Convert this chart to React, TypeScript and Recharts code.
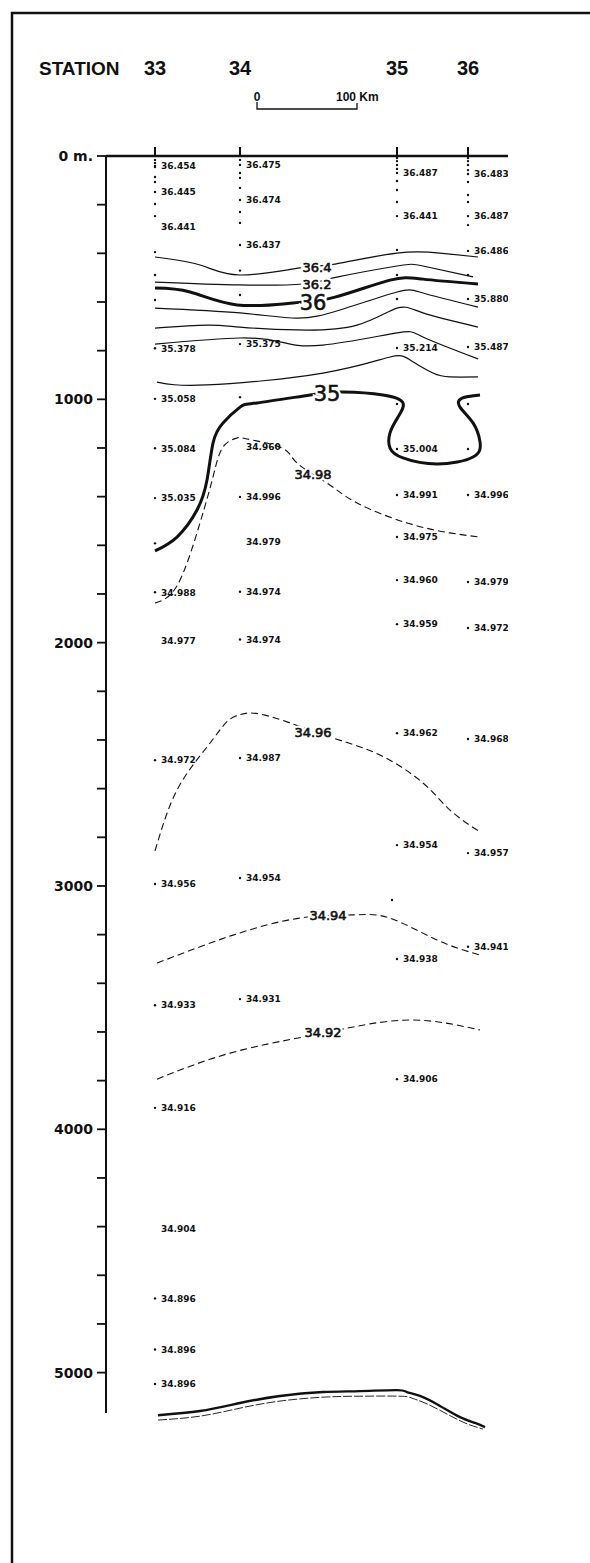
import { ComposedChart, Line, Scatter, XAxis, YAxis, ReferenceLine } from "recharts";

// stations along the section (x = km from station 33)
const stations = ["33", "34", "35", "36"];
const stationKm = [0, 85, 242, 313];

const depthTicks = [
  0, 200, 400, 600, 800, 1000, 1200, 1400, 1600, 1800, 2000, 2200, 2400, 2600,
  2800, 3000, 3200, 3400, 3600, 3800, 4000, 4200, 4400, 4600, 4800, 5000,
];
const depthLabels = [0, 1000, 2000, 3000, 4000, 5000];

// bottle depths (m) with no printed value
const bottles33 = [16, 29, 45, 86, 107, 197, 247, 395, 489, 592, 1592];
const bottles34 = [16, 70, 90, 131, 230, 275, 471, 571, 991];
const bottles35 = [8, 21, 37, 53, 103, 140, 189, 386, 489, 588, 1019];
const bottles36 = [8, 21, 37, 58, 107, 160, 189, 284, 489, 1019, 1204];

// printed salinities: [depth, value, has dot]
const values33: [number, string, boolean][] = [
  [41, "36.454", true], [148, "36.445", true], [292, "36.441", false],
  [790, "35.378", true], [998, "35.058", true], [1201, "35.084", true],
  [1406, "35.035", true], [1793, "34.988", true], [1993, "34.977", false],
  [2483, "34.972", true], [2992, "34.956", true], [3490, "34.933", true],
  [3912, "34.916", true], [4407, "34.904", false], [4695, "34.896", true],
  [4905, "34.896", true], [5047, "34.896", true],
];
const values34: [number, string, boolean][] = [
  [37, "36.475", true], [181, "36.474", true], [366, "36.437", true],
  [773, "35.375", true], [1195, "34.960", false], [1401, "34.996", true],
  [1587, "34.979", false], [1791, "34.974", true], [1987, "34.974", true],
  [2474, "34.987", true], [2967, "34.954", true], [3465, "34.931", true],
];
const values35: [number, string, boolean][] = [
  [70, "36.487", true], [247, "36.441", true], [789, "35.214", true],
  [1204, "35.004", true], [1393, "34.991", true], [1566, "34.975", true],
  [1743, "34.960", true], [1924, "34.959", true], [2372, "34.962", true],
  [2832, "34.954", true], [3300, "34.938", true], [3794, "34.906", true],
];
const values36: [number, string, boolean][] = [
  [74, "36.483", true], [247, "36.487", true], [390, "36.486", true],
  [588, "35.880", true], [785, "35.487", true], [1393, "34.996", true],
  [1751, "34.979", true], [1940, "34.972", true], [2396, "34.968", true],
  [2865, "34.957", true], [3250, "34.941", true],
];
const strayBottles = [[237, 3058]];

// isohalines: [km, depth]
const c364 = [[0, 415], [45, 448], [85, 489], [145, 460], [180, 444], [242, 399], [285, 399], [323, 415]];
const c362 = [[0, 518], [85, 530], [148, 526], [183, 497], [242, 452], [268, 452], [318, 497]];
const c360 = [[0, 543], [35, 559], [82, 612], [138, 604], [180, 580], [235, 510], [268, 506], [323, 526]];
const c358 = [[0, 625], [85, 645], [142, 666], [185, 633], [242, 559], [268, 563], [323, 621]];
const c356 = [[0, 707], [52, 695], [85, 703], [142, 715], [202, 695], [242, 625], [268, 645], [323, 703]];
const c354 = [[0, 773], [85, 748], [125, 764], [168, 777], [242, 727], [268, 744], [323, 834]];
const c352 = [[2, 929], [52, 941], [168, 892], [235, 826], [255, 838], [278, 892], [295, 908], [323, 908]];
const c350 = [
  [0, 1623], [22, 1566], [42, 1455], [52, 1332], [58, 1180], [68, 1097], [85, 1032], [102, 1015],
  [155, 982], [188, 970], [228, 982], [248, 1015], [243, 1073], [235, 1138], [235, 1200],
  [248, 1241], [282, 1266], [318, 1237], [325, 1175], [318, 1097], [305, 1032], [307, 995], [325, 982],
];
const c3498 = [
  [0, 1837], [23, 1759], [45, 1508], [58, 1319], [68, 1196], [82, 1159], [92, 1163], [127, 1200],
  [142, 1262], [172, 1344], [202, 1426], [252, 1508], [295, 1549], [325, 1566],
];
const c3496 = [
  [0, 2856], [22, 2606], [52, 2429], [72, 2325], [85, 2296], [95, 2289], [110, 2298], [135, 2330],
  [178, 2392], [225, 2462], [268, 2577], [295, 2688], [325, 2778],
];
const c3494 = [[2, 3317], [78, 3202], [145, 3132], [198, 3119], [235, 3132], [282, 3222], [325, 3284]];
const c3492 = [[2, 3794], [75, 3687], [148, 3621], [188, 3588], [255, 3551], [325, 3592]];
// sea floor, drawn as a double line
const bottom = [
  [3, 5175], [45, 5158], [85, 5125], [125, 5096], [168, 5080], [205, 5076], [242, 5072],
  [252, 5080], [265, 5096], [285, 5137], [305, 5183], [320, 5207], [330, 5224],
];
const bottomInner = [
  [3, 5195], [45, 5179], [85, 5146], [125, 5117], [168, 5101], [205, 5097], [245, 5097],
  [257, 5105], [270, 5125], [290, 5166], [310, 5207], [328, 5232],
];

// contour labels: [km, depth, text, font size]
const contourLabels: [number, number, string, number][] = [
  [162, 456, "36.4", 13], [162, 526, "36.2", 13], [158, 600, "36", 21],
  [172, 974, "35", 21], [158, 1307, "34.98", 13], [158, 2367, "34.96", 13],
  [173, 3119, "34.94", 13], [168, 3600, "34.92", 13],
];

const toPts = (arr: number[][]) => arr.map(([km, depth]) => ({ km, depth }));

const bottleData = [bottles33, bottles34, bottles35, bottles36]
  .flatMap((b, i) => b.map((depth) => ({ km: stationKm[i], depth })))
  .concat(toPts(strayBottles));

const valueData = [values33, values34, values35, values36].flatMap((v, i) =>
  v.map(([depth, text, dot]) => ({ km: stationKm[i], depth, text, dot }))
);

const labelData = contourLabels.map(([km, depth, text, size]) => ({ km, depth, text, size }));

const contours = [
  { data: c364, w: 1.2, dash: undefined },
  { data: c362, w: 1.2, dash: undefined },
  { data: c360, w: 3, dash: undefined },
  { data: c358, w: 1.2, dash: undefined },
  { data: c356, w: 1.2, dash: undefined },
  { data: c354, w: 1.2, dash: undefined },
  { data: c352, w: 1.2, dash: undefined },
  { data: c350, w: 3, dash: undefined },
  { data: c3498, w: 1.1, dash: "7 4" },
  { data: c3496, w: 1.1, dash: "7 4" },
  { data: c3494, w: 1.1, dash: "7 4" },
  { data: c3492, w: 1.1, dash: "7 4" },
  { data: bottom, w: 2.4, dash: undefined },
  { data: bottomInner, w: 0.9, dash: "9 2" },
];

const INK = "#111";

const StationTick = (p: any) => {
  const i = stationKm.indexOf(p.payload.value);
  return (
    <text x={p.x} y={75} textAnchor="middle" fontFamily="Liberation Sans, Arial" fontWeight={700} fontSize={20} fill={INK}>
      {stations[i]}
    </text>
  );
};

const DepthTick = (p: any) => {
  const v = p.payload.value;
  if (!depthLabels.includes(v)) return <g />;
  return (
    <text x={p.x} y={p.y} dy={5} textAnchor="end" fontFamily="DejaVu Sans" fontWeight={700} fontSize={14} fill={INK}>
      {v === 0 ? "0 m." : String(v)}
    </text>
  );
};

const BottleDot = (p: any) => <circle cx={p.cx} cy={p.cy} r={1.2} fill={INK} />;

const ValueMark = (p: any) => (
  <g>
    {p.payload.dot && <circle cx={p.cx} cy={p.cy} r={1.2} fill={INK} />}
    <text x={p.cx + 6} y={p.cy} dy={3.3} fontFamily="DejaVu Sans" fontWeight={700} fontSize={9} fill={INK}>
      {p.payload.text}
    </text>
  </g>
);

const ContourLabel = (p: any) => {
  const common = {
    x: p.cx,
    y: p.cy,
    dy: p.payload.size * 0.36,
    textAnchor: "middle" as const,
    fontFamily: "DejaVu Sans",
    fontSize: p.payload.size,
  };
  return (
    <g>
      <text {...common} fill="#fff" stroke="#fff" strokeWidth={5}>
        {p.payload.text}
      </text>
      <text {...common} fill={INK} stroke={INK} strokeWidth={0.6}>
        {p.payload.text}
      </text>
    </g>
  );
};

export default function App() {
  return (
    <div style={{ position: "absolute", left: 0, top: 0, width: 590, height: 1563, background: "#fff" }}>
      <ComposedChart width={590} height={1563} margin={{ top: 126, right: 82, bottom: 132, left: 46 }}>
        <XAxis
          type="number"
          dataKey="km"
          orientation="top"
          height={30}
          domain={[-49, 353]}
          allowDataOverflow
          ticks={stationKm}
          tick={<StationTick />}
          tickSize={9}
          axisLine={{ stroke: INK, strokeWidth: 2.5 }}
          tickLine={{ stroke: INK, strokeWidth: 2 }}
        />
        <YAxis
          type="number"
          dataKey="depth"
          width={60}
          reversed
          domain={[0, 5240]}
          allowDataOverflow
          ticks={depthTicks}
          interval={0}
          tick={<DepthTick />}
          tickSize={9}
          tickMargin={4}
          axisLine={false}
          tickLine={{ stroke: INK, strokeWidth: 1.8 }}
        />
        <ReferenceLine
          segment={[{ x: -49, y: 0 }, { x: -49, y: 5166 }]}
          stroke={INK}
          strokeWidth={2}
        />
        {contours.map((c, i) => (
          <Line
            key={i}
            data={toPts(c.data)}
            dataKey="depth"
            type="natural"
            stroke={INK}
            strokeWidth={c.w}
            strokeDasharray={c.dash}
            dot={false}
            activeDot={false}
            isAnimationActive={false}
          />
        ))}
        <Scatter data={bottleData} dataKey="depth" shape={<BottleDot />} isAnimationActive={false} />
        <Scatter data={valueData} dataKey="depth" shape={<ValueMark />} isAnimationActive={false} />
        <Scatter data={labelData} dataKey="depth" shape={<ContourLabel />} isAnimationActive={false} />
      </ComposedChart>
      <svg width={590} height={1563} style={{ position: "absolute", left: 0, top: 0, pointerEvents: "none" }}>
        <path d="M12 1563 V13 H590" fill="none" stroke={INK} strokeWidth={2.5} />
        <text x={39} y={75} fontFamily="Liberation Sans, Arial" fontWeight={700} fontSize={19} fill={INK}>
          STATION
        </text>
        <text x={257} y={101} textAnchor="middle" fontFamily="Liberation Sans, Arial" fontWeight={700} fontSize={12} fill={INK}>
          0
        </text>
        <path d="M257 102 V109 H357 V103" fill="none" stroke={INK} strokeWidth={1.3} />
        <text x={336} y={101} fontFamily="Liberation Sans, Arial" fontWeight={700} fontSize={12} fill={INK}>
          100 Km
        </text>
      </svg>
    </div>
  );
}
